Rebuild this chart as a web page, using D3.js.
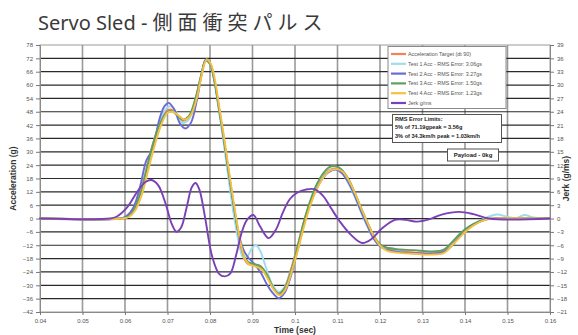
<!DOCTYPE html>
<html>
<head>
<meta charset="utf-8">
<script src="https://cdn.jsdelivr.net/npm/d3@7"></script>
<style>
  html, body { margin: 0; padding: 0; background: #fff; }
  svg { display: block; }
</style>
</head>
<body>
<svg id="chart" width="578" height="335"></svg>
<script>
// ---------------- DATA ----------------
const titleLatin = "Servo Sled - ";
const titleCJK = "側面衝突パルス";
const xLabel = "Time (sec)";
const yLabelLeft = "Acceleration (g)";
const yLabelRight = "Jerk (g/ms)";

const xTicks = [0.04, 0.05, 0.06, 0.07, 0.08, 0.09, 0.10, 0.11, 0.12, 0.13, 0.14, 0.15, 0.16];
const xTickLabels = ["0.04","0.05","0.06","0.07","0.08","0.09","0.1","0.11","0.12","0.13","0.14","0.15","0.16"];
const accTicks = [78,72,66,60,54,48,42,36,30,24,18,12,6,0,-6,-12,-18,-24,-30,-36,-42];
const jerkTicks = [39,36,33,30,27,24,21,18,15,12,9,6,3,0,-3,-6,-9,-12,-15,-18,-21];

const seriesNames = [
  "Acceleration Target (dt 90)",
  "Test 1 Acc - RMS Error: 3.06gs",
  "Test 2 Acc - RMS Error: 3.27gs",
  "Test 3 Acc - RMS Error: 1.50gs",
  "Test 4 Acc - RMS Error: 1.23gs",
  "Jerk g/ms"
];
const seriesColors = ["#f2825e", "#9fdcef", "#6b6bd6", "#5f9f5f", "#f7c040", "#7b40b8"];

// [time (s), acceleration (g)]
const targetAcc = [[0.040,0],[0.059,0],[0.0605,0.8],[0.062,4],[0.0635,11],[0.065,22],[0.0665,33],[0.068,42],[0.0695,48],[0.0708,49],[0.072,47],[0.0735,44],[0.075,45.5],[0.0765,53],[0.078,65],[0.079,71],[0.080,69.5],[0.081,62],[0.082,50],[0.083,38],[0.084,25],[0.085,12],[0.086,0],[0.087,-11],[0.088,-18],[0.089,-20.5],[0.0905,-21],[0.092,-22],[0.0935,-26],[0.095,-31.5],[0.0962,-33.3],[0.0975,-31],[0.099,-23],[0.1005,-13],[0.102,-2],[0.1035,7],[0.105,14],[0.1065,19],[0.108,21.8],[0.1097,22.5],[0.111,21],[0.1125,17],[0.114,11],[0.1155,4],[0.117,-2.5],[0.1185,-8.5],[0.120,-12],[0.1215,-13.8],[0.124,-14.6],[0.128,-15.2],[0.132,-15.6],[0.135,-14.5],[0.137,-11],[0.139,-7],[0.141,-4],[0.143,-1.8],[0.145,-0.4],[0.147,0],[0.160,0]];
const test1Acc = [[0.040,0],[0.059,0],[0.0605,0.5],[0.062,3.5],[0.0635,10],[0.065,21],[0.0665,32],[0.068,42],[0.0695,49],[0.0708,50.5],[0.072,48],[0.0735,43],[0.075,44.5],[0.0765,52.5],[0.078,64.5],[0.079,71],[0.080,69.5],[0.081,62],[0.082,50],[0.083,37],[0.084,23],[0.085,9],[0.086,-3],[0.087,-13],[0.0878,-17.5],[0.0888,-17],[0.0898,-13.5],[0.0908,-12],[0.0918,-14.5],[0.093,-21],[0.0945,-29],[0.0962,-33],[0.0975,-31],[0.099,-24],[0.1005,-14],[0.102,-3],[0.1035,6],[0.105,13.5],[0.1065,18.5],[0.108,21.5],[0.1097,22],[0.111,20.5],[0.1125,16],[0.114,10],[0.1155,3],[0.117,-3.5],[0.1185,-9],[0.120,-12.5],[0.1215,-13.5],[0.123,-13.2],[0.125,-15],[0.128,-15.8],[0.132,-16],[0.135,-15],[0.137,-11.5],[0.139,-7.5],[0.141,-4],[0.143,-1.5],[0.145,0.4],[0.1475,1.8],[0.150,0.8],[0.152,0.2],[0.154,1.6],[0.156,0.5],[0.160,0]];
const test2Acc = [[0.040,0],[0.0588,0],[0.0603,1],[0.062,5],[0.0635,14],[0.065,26],[0.066,29.5],[0.067,35],[0.068,44],[0.0693,50.5],[0.0703,52],[0.0716,49],[0.073,42.5],[0.0742,40.5],[0.0755,43],[0.077,54],[0.078,64.5],[0.079,71.5],[0.080,70],[0.081,62.5],[0.082,51],[0.083,39],[0.084,26],[0.085,13],[0.086,1],[0.087,-9],[0.088,-14.5],[0.089,-17.5],[0.0905,-20.5],[0.092,-24.5],[0.0935,-30],[0.095,-34],[0.0962,-35.8],[0.0975,-33.5],[0.099,-26],[0.1005,-15],[0.102,-3.5],[0.1035,6],[0.105,13],[0.1065,18],[0.108,21],[0.1097,22],[0.111,20.5],[0.1125,16.5],[0.114,10.5],[0.1155,3.5],[0.117,-3],[0.1185,-9],[0.120,-12.5],[0.1215,-14],[0.124,-15],[0.128,-15.5],[0.132,-15.8],[0.135,-15],[0.137,-12],[0.139,-7.5],[0.141,-4.2],[0.143,-1.8],[0.145,-0.3],[0.147,0],[0.160,0]];
const test3Acc = [[0.040,0],[0.0592,0],[0.0607,0.8],[0.062,3.5],[0.0635,10.5],[0.065,21.5],[0.0665,33],[0.068,41.5],[0.0695,47],[0.0708,48.5],[0.072,47],[0.0735,44.5],[0.075,46],[0.0765,53.5],[0.078,65],[0.079,71],[0.080,69.5],[0.081,62.5],[0.082,51],[0.083,39],[0.084,26],[0.085,13],[0.086,1],[0.087,-10],[0.088,-17],[0.089,-19.5],[0.0905,-20.5],[0.092,-21.5],[0.0935,-25.5],[0.095,-31.5],[0.0962,-33.8],[0.0975,-31.5],[0.099,-24],[0.1005,-13.5],[0.102,-2],[0.1035,7.5],[0.105,15],[0.1065,20],[0.108,23],[0.1097,23.5],[0.111,22],[0.1125,18],[0.114,12],[0.1155,5],[0.117,-1.5],[0.1185,-7.5],[0.120,-11.5],[0.1215,-13],[0.124,-13.8],[0.128,-14.2],[0.132,-14.8],[0.135,-14],[0.137,-10.5],[0.139,-6.5],[0.141,-3.5],[0.143,-1.5],[0.145,-0.3],[0.147,0],[0.160,0]];
const test4Acc = [[0.040,0],[0.0595,0],[0.061,0.8],[0.0625,4],[0.064,11],[0.0655,22],[0.067,33],[0.0685,42],[0.070,47.5],[0.0712,48],[0.0725,46.5],[0.074,44.5],[0.0755,46.5],[0.077,55],[0.078,64],[0.0792,71.5],[0.0802,69.5],[0.0812,62],[0.0822,50],[0.0832,38],[0.0842,25],[0.0852,12],[0.0862,0],[0.0872,-11],[0.0882,-18],[0.0892,-20.5],[0.0907,-21.5],[0.0922,-23],[0.0937,-27.5],[0.0952,-32.5],[0.0964,-34.5],[0.0977,-32],[0.0992,-24],[0.1007,-14],[0.1022,-3],[0.1037,6.5],[0.1052,13.5],[0.1067,18.5],[0.1082,21.5],[0.1099,22.2],[0.1112,21],[0.1127,17],[0.1142,11],[0.1157,4],[0.1172,-2.5],[0.1187,-8.5],[0.1202,-12.5],[0.1217,-14.5],[0.124,-15.3],[0.128,-15.8],[0.132,-16.2],[0.135,-15.5],[0.137,-12],[0.139,-8],[0.141,-4.5],[0.143,-2],[0.145,-0.5],[0.147,0],[0.160,0]];
// [time (s), jerk (g/ms)]
const jerkData = [[0.040,0],[0.0565,0],[0.058,0.4],[0.0605,2.5],[0.063,6.2],[0.0648,8.2],[0.0662,8.65],[0.0678,7.5],[0.0695,3.5],[0.071,-1.2],[0.0721,-2.95],[0.0732,-2],[0.0745,2.5],[0.0757,7],[0.0766,8],[0.0775,6.5],[0.0788,0.5],[0.0805,-8.5],[0.0822,-12.5],[0.0835,-13],[0.0848,-12.3],[0.0862,-8],[0.0875,-3],[0.0887,-0.3],[0.0902,0.8],[0.0918,-1.8],[0.0938,-4.4],[0.0955,-2.5],[0.0972,1.5],[0.0988,4.4],[0.1005,5.8],[0.1025,6.5],[0.1045,6.6],[0.1065,5.2],[0.1085,2.3],[0.1105,-0.6],[0.113,-3.5],[0.1158,-5.5],[0.118,-4.6],[0.1205,-2.2],[0.1235,-0.3],[0.126,-0.3],[0.1288,-0.7],[0.1315,-0.2],[0.1345,0.9],[0.1386,1.5],[0.142,1.0],[0.1457,0],[0.160,0]];

// ---------------- LAYOUT ----------------
const svg = d3.select("#chart");
const L = 40, R = 550, T = 45, B = 312;
const x = d3.scaleLinear().domain([0.04, 0.16]).range([L, R]);
const yA = d3.scaleLinear().domain([-42, 78]).range([B, T]);
const yJ = d3.scaleLinear().domain([-21, 39]).range([B, T]);
const tickFont = "'Liberation Sans', Arial, sans-serif";

// title
const title = svg.append("text")
  .attr("x", 38).attr("y", 29.5)
  .attr("font-family", "'Noto Sans', 'Noto Sans CJK JP', sans-serif")
  .attr("font-size", 20).attr("fill", "#3a3a3a");
title.append("tspan").text(titleLatin);
title.append("tspan").attr("font-family", "'Noto Sans CJK JP', sans-serif").attr("letter-spacing", 5).text(titleCJK);

// vertical gridlines
svg.append("g").selectAll("line").data(xTicks.slice(1, -1)).join("line")
  .attr("x1", d => x(d)).attr("x2", d => x(d))
  .attr("y1", T).attr("y2", B)
  .attr("stroke", "#9a9a9a").attr("stroke-width", 1.6);

// horizontal gridlines
svg.append("g").selectAll("line").data(accTicks.slice(1, -1)).join("line")
  .attr("x1", L).attr("x2", R)
  .attr("y1", d => yA(d)).attr("y2", d => yA(d))
  .attr("stroke", "#2a2a2a").attr("stroke-width", 1.2);

// frame
svg.append("rect").attr("x", L).attr("y", T).attr("width", R - L).attr("height", B - T)
  .attr("fill", "none").attr("stroke", "#9a9a9a").attr("stroke-width", 1);

// axes
const axL = d3.axisLeft(yA).tickValues(accTicks).tickSize(4).tickPadding(3);
const axR = d3.axisRight(yJ).tickValues(jerkTicks).tickSize(4).tickPadding(3);
const axB = d3.axisBottom(x).tickValues(xTicks).tickFormat((d, i) => xTickLabels[i]).tickSize(3).tickPadding(4);
function styleAxis(g) {
  g.select(".domain").attr("stroke", "#8a8a8a");
  g.selectAll(".tick line").attr("stroke", "#777");
  g.selectAll(".tick text").attr("fill", "#555").attr("font-size", 6).attr("font-family", tickFont);
}
svg.append("g").attr("transform", `translate(${L},0)`).call(axL).call(styleAxis);
svg.append("g").attr("transform", `translate(${R},0)`).call(axR).call(styleAxis);
svg.append("g").attr("transform", `translate(0,${B})`).call(axB).call(styleAxis);

// axis titles
svg.append("text").attr("transform", `translate(15.5,${(T + B) / 2}) rotate(-90)`)
  .attr("text-anchor", "middle").attr("font-family", tickFont).attr("font-weight", "bold")
  .attr("font-size", 8.5).attr("fill", "#333").text(yLabelLeft);
svg.append("text").attr("transform", `translate(569,${(T + B) / 2}) rotate(-90)`)
  .attr("text-anchor", "middle").attr("font-family", tickFont).attr("font-weight", "bold")
  .attr("font-size", 8.5).attr("fill", "#333").text(yLabelRight);
svg.append("text").attr("x", (L + R) / 2).attr("y", 333)
  .attr("text-anchor", "middle").attr("font-family", tickFont).attr("font-weight", "bold")
  .attr("font-size", 8.5).attr("fill", "#333").text(xLabel);

// series
const lineA = d3.line().x(d => x(d[0])).y(d => yA(d[1])).curve(d3.curveCatmullRom.alpha(0.5));
const lineJ = d3.line().x(d => x(d[0])).y(d => yJ(d[1])).curve(d3.curveCatmullRom.alpha(0.5));
const accSeries = [targetAcc, test1Acc, test2Acc, test3Acc, test4Acc];
const gS = svg.append("g").attr("fill", "none").attr("stroke-linejoin", "round").attr("stroke-linecap", "round");
accSeries.forEach((s, i) => {
  gS.append("path").attr("d", lineA(s)).attr("stroke", seriesColors[i]).attr("stroke-width", 1.9);
});
gS.append("path").attr("d", lineJ(jerkData)).attr("stroke", seriesColors[5]).attr("stroke-width", 1.9);

// legend
const lg = svg.append("g");
lg.append("rect").attr("x", 388).attr("y", 46.5).attr("width", 118).attr("height", 62)
  .attr("fill", "#fff").attr("stroke", "#8a8a8a").attr("stroke-width", 1);
seriesNames.forEach((n, i) => {
  const yy = 54 + i * 9.8;
  lg.append("line").attr("x1", 391).attr("x2", 406).attr("y1", yy).attr("y2", yy)
    .attr("stroke", seriesColors[i]).attr("stroke-width", 2.2);
  lg.append("text").attr("x", 408).attr("y", yy + 2).attr("font-family", tickFont)
    .attr("font-size", 5.4).attr("fill", "#555").text(n);
});

// RMS box
const rmsLines = ["RMS Error Limits:", "5% of 71.19gpeak = 3.56g", "3% of 34.3km/h peak = 1.03km/h"];
svg.append("rect").attr("x", 392.5).attr("y", 114.5).attr("width", 109).attr("height", 28)
  .attr("fill", "#fff").attr("stroke", "#555").attr("stroke-width", 1);
rmsLines.forEach((t, i) => {
  svg.append("text").attr("x", 395).attr("y", 121 + i * 8.3).attr("font-family", tickFont)
    .attr("font-weight", "bold").attr("font-size", 5.6).attr("fill", "#222").text(t);
});

// payload box
svg.append("rect").attr("x", 447.5).attr("y", 149).attr("width", 51).attr("height", 12)
  .attr("fill", "#fff").attr("stroke", "#555").attr("stroke-width", 1);
svg.append("text").attr("x", 473).attr("y", 157.2).attr("text-anchor", "middle")
  .attr("font-family", tickFont).attr("font-weight", "bold").attr("font-size", 6).attr("fill", "#222")
  .text("Payload - 0kg");
</script>
</body>
</html>
